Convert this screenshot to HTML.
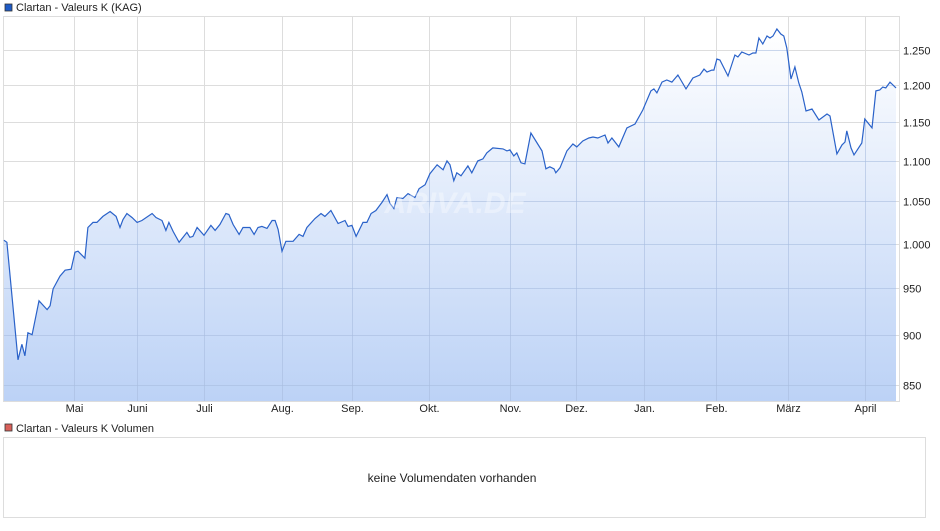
<!DOCTYPE html>
<html><head><meta charset="utf-8"><style>
body{margin:0;background:#fff;font-family:"Liberation Sans",sans-serif;}
svg text{font-family:"Liberation Sans",sans-serif;}
</style></head><body>
<svg id="c" width="940" height="526" xmlns="http://www.w3.org/2000/svg">
<defs><linearGradient id="g" x1="0" y1="0" x2="0" y2="1"><stop offset="0" stop-color="#ffffff"/><stop offset="1" stop-color="#bcd2f6"/></linearGradient>
<clipPath id="ac"><path id="acp" d=""/></clipPath></defs>
<rect x="5" y="4" width="7" height="7" fill="#1e5bc6" stroke="#333" stroke-width="0.8"/>
<text x="16" y="11" font-size="11" fill="#222">Clartan - Valeurs K (KAG)</text>
<g id="grid"></g>
<g id="marks"></g>
<g id="axes"></g>
<text x="455" y="213" font-size="30" font-style="italic" font-weight="bold" fill="#ffffff" fill-opacity="0.35" text-anchor="middle">ARIVA.DE</text>
<rect x="5" y="424" width="7" height="7" fill="#d9605a" stroke="#333" stroke-width="0.8"/>
<text x="16" y="432" font-size="11" fill="#222">Clartan - Valeurs K Volumen</text>
<rect x="3.5" y="437.5" width="922" height="80" fill="#fff" stroke="#ddd"/>
<text x="452" y="482" font-size="12" fill="#222" text-anchor="middle">keine Volumendaten vorhanden</text>
</svg>
<script>
const days=[0.3,1.3,5,6.3,7.3,8.3,9.7,12,14.7,15.7,16.7,19,20.7,22.7,24,25,27.3,28.3,30,31.3,33.3,35.7,37.7,39,40,41.3,43,44.7,46.3,49.7,51,53,54.3,55.3,56.7,58.7,61.3,62.3,63.3,64.7,67,69.3,70.7,72.3,74.3,75.3,76.7,78.7,80,82.3,83.7,85,86.3,88,89.7,90.7,91.7,93,94.3,96.7,98.7,100,101.3,104,106,107.3,109.3,111.7,114,115,116.3,117.7,120,121.3,122.7,124.3,126.3,128,129,130.3,131.3,133.3,135,137.3,138.7,140.7,142.3,144.7,146.7,148,149,150.3,151.3,152.7,155,156.3,158.3,160,161.3,163.3,166.7,168,169,170.3,171.3,172.7,174,176,179.7,181,182.3,183.7,184.3,185.7,188,190,191.3,193.3,195.3,196.7,198.3,200.7,201.7,203,205.3,208,210.7,213.3,216,217,218,219.7,221.3,223,225,227.7,230,232.3,233.7,234.7,236.3,237,238,239,241.7,244,245,246.3,248.7,250,251,252,253.3,254.7,255.7,256.7,258,259.3,260.3,261.3,262.7,264,265.3,266.3,267.7,269.7,272,274.7,275.7,278,279.7,280.7,281.3,282.7,283.7,286.3,287.3,289.7,291,292.3,293.3,294.3,295.7,297.7];
const prices=[1004.0,1001.7,875.0,890.7,879.0,902.6,900.6,936.5,927.0,931.2,949.4,963.5,970.1,971.2,990.4,991.5,983.5,1019.0,1024.9,1024.9,1032.0,1037.9,1032.0,1019.0,1028.4,1035.5,1030.8,1024.9,1027.2,1035.5,1030.8,1027.2,1015.5,1024.9,1014.4,1001.7,1013.2,1007.5,1008.6,1019.0,1009.8,1021.4,1015.5,1022.5,1035.5,1034.3,1022.5,1010.9,1019.0,1019.0,1010.9,1019.0,1020.2,1017.9,1027.2,1027.2,1016.7,991.5,1002.9,1002.9,1010.9,1008.6,1019.0,1029.6,1035.5,1032.0,1039.1,1023.7,1027.2,1020.2,1021.4,1008.6,1024.9,1024.9,1035.5,1039.1,1048.7,1058.3,1047.5,1041.5,1054.7,1053.5,1059.5,1054.7,1065.6,1070.4,1084.0,1095.2,1088.9,1100.2,1095.2,1075.3,1085.2,1081.5,1093.9,1085.2,1100.2,1102.7,1110.3,1116.7,1115.4,1112.9,1114.2,1106.5,1110.3,1097.7,1096.4,1136.1,1112.9,1090.2,1092.7,1090.2,1085.2,1091.4,1112.9,1121.8,1118.0,1125.7,1129.6,1130.9,1129.6,1133.5,1123.1,1129.6,1118.0,1142.7,1147.9,1166.6,1192.5,1195.2,1189.7,1204.7,1207.5,1204.7,1214.5,1195.2,1210.3,1214.5,1222.8,1218.6,1221.4,1221.4,1237.1,1235.7,1213.1,1242.8,1240.0,1247.1,1242.8,1245.7,1245.7,1267.4,1258.7,1270.3,1267.4,1270.3,1280.6,1273.2,1270.3,1252.9,1208.9,1225.8,1203.4,1191.1,1165.2,1167.9,1153.2,1161.2,1158.5,1109.1,1120.6,1124.4,1138.8,1116.7,1107.8,1123.1,1154.5,1142.7,1192.5,1193.9,1197.9,1196.6,1204.7,1196.6];
const yTicks=[850,900,950,1000,1050,1100,1150,1200,1250];
const yTickLabels=["850","900","950","1.000","1.050","1.100","1.150","1.200","1.250"];
const monthDays=[23.7,44.7,67,93,116.3,142,169,191,213.7,237.7,261.7,287.3];
const monthLabels=["Mai","Juni","Juli","Aug.","Sep.","Okt.","Nov.","Dez.","Jan.","Feb.","März","April"];

const L=3,R=899,T=16,B=401,D0=0,D1=298.7;
function xs(d){return L+(d-D0)/(D1-D0)*(R-L);}
function ys(v){return 50-868.5*Math.log(v/1250);}
const NS="http://www.w3.org/2000/svg";
function mk(tag,attrs,parent){const e=document.createElementNS(NS,tag);for(const k in attrs)e.setAttribute(k,attrs[k]);document.getElementById(parent).appendChild(e);return e;}

let bg=mk('rect',{x:L+0.5,y:T+0.5,width:R-L,height:B-T,fill:'#fff',stroke:'#ddd'},'grid');


yTicks.forEach((v,i)=>{
  const y=Math.round(ys(v))+0.5;
  const ln=mk('line',{x1:L,x2:R,y1:y,y2:y,stroke:'#ddd'},'grid');
  
  
  const t=mk('text',{x:903,y:y+4,'font-size':11,fill:'#222'},'axes');
  t.textContent=yTickLabels[i];
  
  
});
monthDays.forEach((d,i)=>{
  const x=Math.round(xs(d))+0.5;
  const ln=mk('line',{x1:x,x2:x,y1:T,y2:B,stroke:'#ddd'},'grid');
  
  
  const t=mk('text',{x:x,y:412,'font-size':11,fill:'#222','text-anchor':'middle'},'axes');
  t.textContent=monthLabels[i];
  
  
});
let pts=days.map((d,i)=>xs(d).toFixed(1)+','+ys(prices[i]).toFixed(1));
const areaD='M'+xs(days[0]).toFixed(1)+','+B+' L'+pts.join(' L')+' L'+xs(days[days.length-1]).toFixed(1)+','+B+' Z';
document.getElementById('acp').setAttribute('d',areaD);
const area=mk('path',{d:areaD,fill:'url(#g)'},'marks');


const ov=mk('g',{'clip-path':'url(#ac)'},'marks');
ov.setAttribute('id','ov');
yTicks.forEach(v=>{const y=Math.round(ys(v))+0.5;const l=mk('line',{x1:L,x2:R,y1:y,y2:y,stroke:'#a8bde0','stroke-opacity':0.6},'ov');

});
monthDays.forEach(d=>{const x=Math.round(xs(d))+0.5;const l=mk('line',{x1:x,x2:x,y1:T,y2:B,stroke:'#a8bde0','stroke-opacity':0.6},'ov');

});
const line=mk('polyline',{points:pts.join(' '),fill:'none',stroke:'#2a62c9','stroke-width':1.2},'marks');


</script>
</body></html>
